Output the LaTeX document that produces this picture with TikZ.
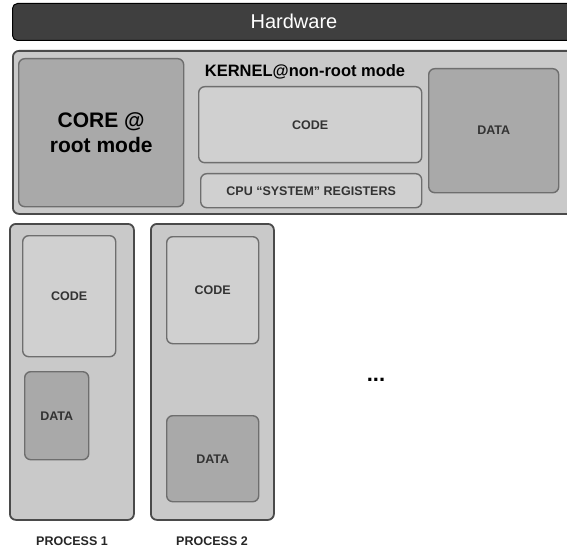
\documentclass[tikz,border=0pt]{standalone}
\usepackage{fontspec}
\setmainfont{Liberation Sans}
\usepackage{xcolor}

\definecolor{hwgray}{HTML}{3F3F3F}
\definecolor{outerfill}{HTML}{C9C9C9}
\definecolor{lightfill}{HTML}{D0D0D0}
\definecolor{darkfill}{HTML}{A9A9A9}
\definecolor{edgegray}{HTML}{4A4A4A}
\definecolor{inneredge}{HTML}{6E6E6E}

\tikzset{
    outerbox/.style={rectangle, draw=edgegray, line width=1.8pt, fill=outerfill, rounded corners=6pt, anchor=north west, inner sep=0pt},
    lightbox/.style={rectangle, draw=inneredge, line width=1.4pt, fill=lightfill, rounded corners=6pt, anchor=north west, inner sep=0pt, font=\fontsize{12.5}{14}\selectfont\bfseries, text=black!80},
    darkbox/.style={rectangle, draw=inneredge, line width=1.4pt, fill=darkfill, rounded corners=6pt, anchor=north west, inner sep=0pt, font=\fontsize{12.5}{14}\selectfont\bfseries, text=black!80},
    proclabel/.style={font=\fontsize{12.5}{14}\selectfont\bfseries, text=black!85}
}

\begin{document}
\begin{tikzpicture}[x=1pt, y=-1pt]
    \useasboundingbox [fill=white] (0,0) rectangle (567,548);
    \begin{scope}
    \clip (0,0) rectangle (567,548);

    \node (hardware) [rectangle, draw=black, line width=1pt, fill=hwgray, rounded corners=5pt, anchor=north west, inner sep=0pt, minimum width=570pt, minimum height=37pt] at (12,3) {};
    \node (hwtext) at (294,21) [text=white, font=\fontsize{20}{22}\selectfont] {Hardware};

    % kernel area
    \node (kernel) [outerbox, minimum width=570pt, minimum height=163pt] at (12,50) {};
    \node (core) [darkbox, minimum width=165pt, minimum height=148pt, align=center, font=\fontsize{21}{25}\selectfont\bfseries, text=black] at (18,58) {CORE @\\ root mode};
    \node (kernlabel) at (305,72) [font=\fontsize{16.5}{18}\selectfont\bfseries, text=black] {KERNEL@non-root mode};
    \node (kcode) [lightbox, minimum width=223pt, minimum height=76pt] at (198,86) {CODE};
    \node (kregs) [lightbox, minimum width=221pt, minimum height=34pt] at (200,173) {CPU ``SYSTEM'' REGISTERS};
    \node (kdata) [darkbox, minimum width=130pt, minimum height=124pt] at (428,68) {DATA};

    % processes
    \node (proc1) [outerbox, minimum width=124pt, minimum height=296pt] at (9,223) {};
    \node (p1code) [lightbox, minimum width=93pt, minimum height=121pt] at (22,235) {CODE};
    \node (p1data) [darkbox, minimum width=64pt, minimum height=88pt] at (24,371) {DATA};
    \node (p1label) [proclabel] at (72,541) {PROCESS 1};

    \node (proc2) [outerbox, minimum width=123pt, minimum height=296pt] at (150,223) {};
    \node (p2code) [lightbox, minimum width=92pt, minimum height=107pt] at (166,236) {CODE};
    \node (p2data) [darkbox, minimum width=92pt, minimum height=86pt] at (166,415) {DATA};
    \node (p2label) [proclabel] at (212,541) {PROCESS 2};

    \node (more) at (376,380) [font=\fontsize{22}{24}\selectfont\bfseries] {...};
    \end{scope}
\end{tikzpicture}
\end{document}
